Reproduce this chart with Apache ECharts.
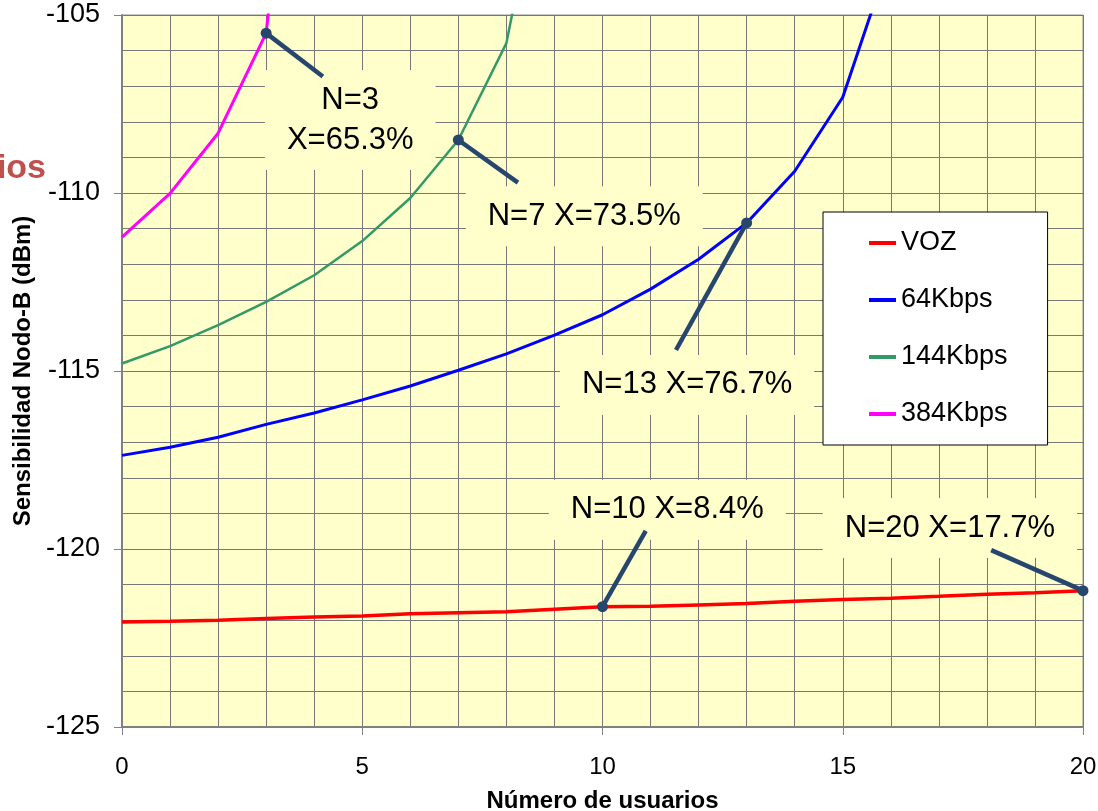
<!DOCTYPE html>
<html>
<head>
<meta charset="utf-8">
<script src="https://cdn.jsdelivr.net/npm/echarts@6/dist/echarts.min.js"></script>
<style>
  html, body { margin: 0; padding: 0; background: #fff; }
  #main { width: 1098px; height: 811px; }
</style>
</head>
<body>
<div id="main"></div>
<script>
// numero de usuarios
var users = [0, 1, 2, 3, 4, 5, 6, 7, 8, 9, 10, 11, 12, 13, 14, 15, 16, 17, 18, 19, 20];
// sensibilidad por servicio (dBm)
var voz = [-122.05, -122.03, -122.0, -121.95, -121.91, -121.88, -121.82, -121.79, -121.76, -121.69, -121.62,
  -121.61, -121.57, -121.53, -121.47, -121.42, -121.38, -121.33, -121.27, -121.23, -121.17];
var k64 = [-117.37, -117.14, -116.86, -116.5, -116.18, -115.81, -115.42, -114.98, -114.52, -113.99, -113.42,
  -112.7, -111.86, -110.84, -109.39, -107.31, -103.3];
var k144 = [-114.79, -114.3, -113.71, -113.06, -112.31, -111.35, -110.14, -108.51, -105.79, -99.0];
var k384 = [-111.24, -110.01, -108.32, -105.51, -93.0];

var seriesNames = ['VOZ', '64Kbps', '144Kbps', '384Kbps'];
var seriesColors = ['#ff0000', '#0000ff', '#339966', '#ff00ff'];
var seriesWidths = [3.5, 3, 2.5, 3];
var seriesData = [voz, k64, k144, k384];

// anotaciones: serie, indice del punto, texto
var noteSeries = [3, 2, 1, 0, 0];
var noteIndex = [3, 7, 13, 10, 20];
var noteText = ['N=3\nX=65.3%', 'N=7 X=73.5%', 'N=13 X=76.7%', 'N=10 X=8.4%', 'N=20 X=17.7%'];
// donde va el texto y donde termina la linea (en unidades del eje)
var noteLabelAt = [[4.75, -107.95], [9.62, -110.65], [11.76, -115.39], [11.35, -118.9], [17.23, -119.41]];
var noteLineEnd = [[4.18, -106.73], [8.24, -109.71], [11.53, -114.41], [10.9, -119.49], [18.09, -120.03]];

var FONT = 'Liberation Sans, Arial, sans-serif';
var NAVY = '#26466d';

var chart = echarts.init(document.getElementById('main'));

function pairs(arr) {
  var out = [];
  for (var i = 0; i < arr.length; i++) out.push([users[i], arr[i]]);
  return out;
}

var series = [];
var boxes = [];
for (var s = 0; s < seriesData.length; s++) {
  var lines = [], points = [];
  for (var k = 0; k < noteSeries.length; k++) {
    if (noteSeries[k] != s) continue;
    var p = [users[noteIndex[k]], seriesData[s][noteIndex[k]]];
    lines.push([{ coord: p }, { coord: noteLineEnd[k] }]);
    points.push({
      coord: p,
      symbol: 'circle',
      symbolSize: 11,
      itemStyle: { color: NAVY },
      label: { show: false }
    });
    boxes.push({
      coord: noteLabelAt[k],
      symbol: 'rect',
      symbolSize: 1,
      itemStyle: { color: 'rgba(0,0,0,0)' },
      label: {
        show: true,
        position: 'inside',
        formatter: noteText[k],
        color: '#000',
        fontFamily: FONT,
        fontSize: 31,
        lineHeight: 40,
        align: 'center',
        backgroundColor: '#ffffcc',
        padding: [10, 22]
      }
    });
  }
  series.push({
    name: seriesNames[s],
    type: 'line',
    data: pairs(seriesData[s]),
    symbol: 'none',
    smooth: false,
    clip: true,
    color: seriesColors[s],
    lineStyle: { color: seriesColors[s], width: seriesWidths[s] },
    z: 3,
    markLine: {
      silent: true,
      z: 5,
      symbol: ['none', 'none'],
      label: { show: false },
      lineStyle: { color: NAVY, width: 4.5, type: 'solid' },
      data: lines
    },
    markPoint: {
      silent: true,
      z: 6,
      data: points
    }
  });
}
// cajas de texto: por debajo de las curvas, encima de la cuadricula
series.push({
  name: 'notas',
  type: 'line',
  data: [],
  symbol: 'none',
  z: 1,
  markPoint: { silent: true, z: 1, data: boxes }
});

var gridStyle = { color: '#777', width: 1 };

chart.setOption({
  animation: false,
  textStyle: { fontFamily: FONT },
  graphic: [{
    type: 'text',
    style: {
      x: 46,
      y: 169,
      text: 'ios',
      align: 'right',
      verticalAlign: 'middle',
      fill: '#c0504d',
      font: 'bold 34px ' + FONT
    }
  }],
  grid: {
    left: 122,
    right: 15,
    top: 15,
    bottom: 84,
    outerBoundsMode: 'none',
    show: true,
    backgroundColor: '#ffffcc',
    borderColor: '#909090',
    borderWidth: 1
  },
  legend: {
    orient: 'vertical',
    left: 823,
    top: 212,
    padding: [16, 40, 16, 46],
    backgroundColor: '#fff',
    borderColor: '#000',
    borderWidth: 1,
    itemGap: 27,
    itemWidth: 27,
    itemHeight: 4,
    icon: 'rect',
    selectedMode: false,
    textStyle: { fontSize: 27, lineHeight: 30, color: '#000', fontFamily: FONT },
    data: seriesNames
  },
  xAxis: {
    type: 'value',
    min: 0,
    max: 20,
    interval: 5,
    name: 'Número de usuarios',
    nameLocation: 'middle',
    nameGap: 62,
    nameTextStyle: { fontSize: 24, fontWeight: 'bold', color: '#000' },
    axisLine: { show: true, onZero: false, lineStyle: { color: '#808080', width: 2 } },
    axisTick: { show: true, length: 8, lineStyle: { color: '#808080', width: 1 } },
    axisLabel: { fontSize: 24, color: '#000', margin: 28 },
    splitLine: { show: true, lineStyle: gridStyle },
    minorTick: { show: false, splitNumber: 5 },
    minorSplitLine: { show: true, lineStyle: gridStyle }
  },
  yAxis: {
    type: 'value',
    min: -125,
    max: -105,
    interval: 5,
    name: 'Sensibilidad Nodo-B (dBm)',
    nameLocation: 'middle',
    nameGap: 73,
    nameTextStyle: { fontSize: 24, fontWeight: 'bold', color: '#000' },
    axisLine: { show: true, lineStyle: { color: '#808080', width: 2 } },
    axisTick: { show: true, length: 8, lineStyle: { color: '#808080', width: 1 } },
    axisLabel: { fontSize: 27, color: '#000', margin: 22 },
    splitLine: { show: true, lineStyle: gridStyle },
    minorTick: { show: false, splitNumber: 5 },
    minorSplitLine: { show: true, lineStyle: gridStyle }
  },
  series: series
});
</script>
</body>
</html>
